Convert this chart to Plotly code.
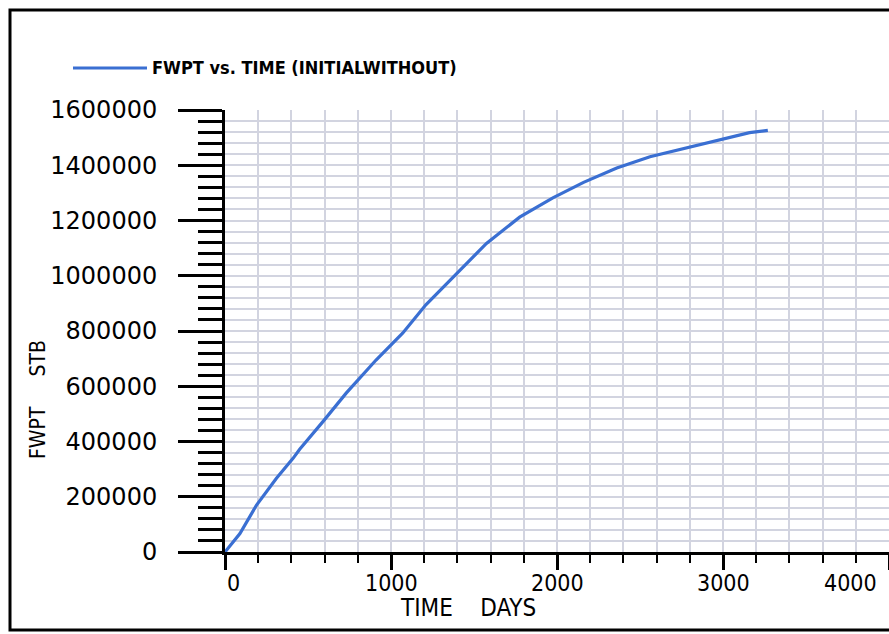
import plotly.graph_objects as go

# ---- data ----
time_days = [0, 90, 190, 310, 410, 450, 590, 730, 910, 1070, 1210, 1375, 1575,
             1775, 1975, 2160, 2360, 2560, 2760, 2960, 3160, 3270]
fwpt_stb = [0, 67000, 170000, 267000, 339000, 372000, 472000, 575000, 695000,
            792000, 895000, 997000, 1117000, 1212000, 1282000, 1338000, 1390000,
            1431000, 1460000, 1491000, 1518000, 1526000]

y_tick_vals = [0, 200000, 400000, 600000, 800000, 1000000, 1200000, 1400000, 1600000]
y_tick_labels = ["0", "200000", "400000", "600000", "800000", "1000000",
                 "1200000", "1400000", "1600000"]
x_tick_vals = [0, 1000, 2000, 3000, 4000]
x_tick_labels = ["0", "1000", "2000", "3000", "4000"]

series_name = "FWPT vs. TIME (INITIALWITHOUT)"
x_title = "TIME\u00a0\u00a0\u00a0\u00a0DAYS"
y_title = "FWPT\u00a0\u00a0\u00a0\u00a0\u00a0STB"

# ---- layout geometry (pixels) ----
W, H = 889, 634
ML, MR, MT, MB = 225, 0, 110, 82
PW, PH = W - ML - MR, H - MT - MB


def px(x):
    return (x - ML) / PW


def py(y):
    return (H - MB - y) / PH


GRID = "#d2d4e0"
LINE_BLUE = "#3a6fd2"
COND = "DejaVu Sans Condensed, DejaVu Sans, sans-serif"

fig = go.Figure()
fig.add_trace(go.Scatter(
    x=time_days, y=fwpt_stb, mode="lines",
    line=dict(color=LINE_BLUE, width=3.2),
    name=series_name, showlegend=False,
))

fig.update_layout(
    width=W, height=H, autosize=False,
    margin=dict(l=ML, r=MR, t=MT, b=MB, pad=0),
    paper_bgcolor="white", plot_bgcolor="white",
    showlegend=False,
)

fig.update_xaxes(
    range=[0, 4000], tickvals=x_tick_vals, showticklabels=False,
    ticks="outside", ticklen=15, tickwidth=3, tickcolor="black",
    showline=True, linecolor="black", linewidth=3,
    showgrid=True, gridcolor=GRID, gridwidth=1.5, zeroline=False,
    minor=dict(dtick=200, ticks="outside", ticklen=8, tickwidth=2,
               tickcolor="black", showgrid=True, gridcolor=GRID, gridwidth=1.5),
)
fig.update_yaxes(
    range=[0, 1600000], tickvals=y_tick_vals, ticktext=y_tick_labels,
    ticks="outside", ticklen=44, tickwidth=3, tickcolor="black",
    tickfont=dict(family="DejaVu Sans, sans-serif", size=24, color="black"),
    ticklabelstandoff=16,
    showline=True, linecolor="black", linewidth=3,
    showgrid=True, gridcolor=GRID, gridwidth=1.5, zeroline=False,
    minor=dict(dtick=40000, ticks="outside", ticklen=24, tickwidth=2.5,
               tickcolor="black", showgrid=True, gridcolor=GRID, gridwidth=1.5),
)

# x tick labels (edge labels kept inside the frame as in the reference)
for v, t in zip(x_tick_vals, x_tick_labels):
    anchor, shift = "center", 0
    if v == x_tick_vals[0]:
        anchor, shift = "left", 0
    elif v == x_tick_vals[-1]:
        anchor, shift = "right", -10
    fig.add_annotation(x=v, y=0, xref="x", yref="y", text=t, showarrow=False,
                       xanchor=anchor, yanchor="top", xshift=shift, yshift=-16,
                       font=dict(family=COND, size=23, color="black"))

# axis titles
fig.add_annotation(x=px(468), y=py(608), xref="paper", yref="paper", text=x_title,
                   showarrow=False, xanchor="center", yanchor="middle",
                   font=dict(family=COND, size=24, color="black"))
fig.add_annotation(x=px(38), y=py(400), xref="paper", yref="paper", text=y_title,
                   showarrow=False, textangle=-90, xanchor="center", yanchor="middle",
                   font=dict(family=COND, size=21, color="black"))

# legend sample + text
fig.add_shape(type="line", xref="paper", yref="paper",
              x0=px(73), x1=px(147), y0=py(68), y1=py(68),
              line=dict(color=LINE_BLUE, width=3))
fig.add_annotation(x=px(150), y=py(68), xref="paper", yref="paper", text=series_name,
                   showarrow=False, xanchor="left", yanchor="middle",
                   font=dict(family=COND, size=18, color="black", weight="bold"))

# outer frame
fig.add_shape(type="rect", xref="paper", yref="paper",
              x0=px(10), x1=px(895), y0=py(630), y1=py(10),
              line=dict(color="black", width=3), fillcolor="rgba(0,0,0,0)")

fig.write_html("out.html", config={"displayModeBar": False},
               post_script="document.body.style.margin='0';")
